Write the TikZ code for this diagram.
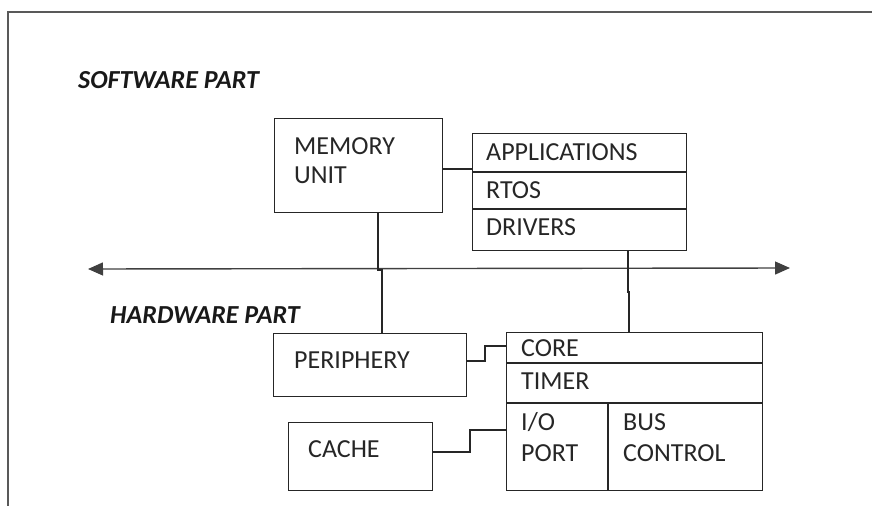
\documentclass[tikz,border=0pt]{standalone}
\usepackage{fontspec}
\setmainfont{Carlito}
\usetikzlibrary{arrows.meta,calc}
\begin{document}
\begin{tikzpicture}[x=1pt,y=-1pt,
  box/.style={draw=black!85,line width=1.4pt,rectangle,inner sep=0pt,anchor=north west},
  lbl/.style={anchor=west,inner sep=0pt,text=black!85,font=\fontsize{26}{30}\selectfont},
  head/.style={anchor=west,inner sep=0pt,text=black!90,font=\fontsize{26}{30}\selectfont\bfseries\itshape},
  wire/.style={draw=black!85,line width=1.4pt},
  frame/.style={draw=black!65,line width=1.6pt}]
\useasboundingbox (0,0) rectangle (872,506);
% frame
\coordinate (ftl) at (8,12);
\coordinate (ftr) at (872,12);
\coordinate (fbl) at (8,506);
\draw[frame] (ftr) -- (ftl) -- (fbl);
% headings
\node[head] (sw) at (78,80) {SOFTWARE PART};
\node[head] (hw) at (110,315) {HARDWARE PART};
% memory unit
\node[box,minimum width=168pt,minimum height=94pt] (mem) at (274,118) {};
\node[lbl] (memt1) at (294,146) {MEMORY};
\node[lbl] (memt2) at (294,175) {UNIT};
% software stack
\node[box,minimum width=214pt,minimum height=117pt] (sws) at (472,133) {};
\coordinate (d1l) at (472,172); \coordinate (d1r) at (686,172);
\coordinate (d2l) at (472,209); \coordinate (d2r) at (686,209);
\draw[wire] (d1l) -- (d1r) (d2l) -- (d2r);
\node[lbl] (app) at (486,152) {APPLICATIONS};
\node[lbl] (rtos) at (486,190) {RTOS};
\node[lbl] (drv) at (486,227) {DRIVERS};
% bus
\coordinate (busl) at (88,269);
\coordinate (busr) at (790,268);
\draw[wire,black!75,{Triangle[length=15pt,width=13pt]}-{Triangle[length=15pt,width=13pt]}] (busl) -- (busr);
% periphery
\node[box,minimum width=193pt,minimum height=63pt] (per) at (273,333) {};
\node[lbl] (pert) at (294,360) {PERIPHERY};
% cache
\node[box,minimum width=144pt,minimum height=68pt] (cache) at (288,422) {};
\node[lbl] (cachet) at (308,449) {CACHE};
% hardware block
\node[box,minimum width=256pt,minimum height=158pt] (hwb) at (506,332) {};
\coordinate (h1l) at (506,363); \coordinate (h1r) at (762,363);
\coordinate (h2l) at (506,403); \coordinate (h2r) at (762,403);
\coordinate (hvt) at (608,403); \coordinate (hvb) at (608,490);
\draw[wire] (h1l) -- (h1r) (h2l) -- (h2r) (hvt) -- (hvb);
\node[lbl] (core) at (521,348) {CORE};
\node[lbl] (timer) at (521,381) {TIMER};
\node[lbl] (io) at (521,422) {I/O};
\node[lbl] (port) at (521,453) {PORT};
\node[lbl] (bus) at (623,422) {BUS};
\node[lbl] (ctrl) at (623,453) {CONTROL};
% connectors
\coordinate (m1) at (442,169);
\coordinate (m2) at (472,169);
\draw[wire] (m1) -- (m2);
\coordinate (mb1) at (378,212);
\coordinate (mb2) at (378,270);
\coordinate (mb3) at (382,270);
\coordinate (mb4) at (382,333);
\draw[wire] (mb1) -- (mb2) -- (mb3) -- (mb4);
\coordinate (db1) at (628,250);
\coordinate (db2) at (628,292);
\coordinate (db3) at (629,292);
\coordinate (db4) at (629,332);
\draw[wire] (db1) -- (db2) -- (db3) -- (db4);
\coordinate (pc1) at (466,361);
\coordinate (pc2) at (485,361);
\coordinate (pc3) at (485,346);
\coordinate (pc4) at (506,346);
\draw[wire] (pc1) -- (pc2) -- (pc3) -- (pc4);
\coordinate (ci1) at (432,452);
\coordinate (ci2) at (470,452);
\coordinate (ci3) at (470,430);
\coordinate (ci4) at (506,430);
\draw[wire] (ci1) -- (ci2) -- (ci3) -- (ci4);
\end{tikzpicture}
\end{document}
